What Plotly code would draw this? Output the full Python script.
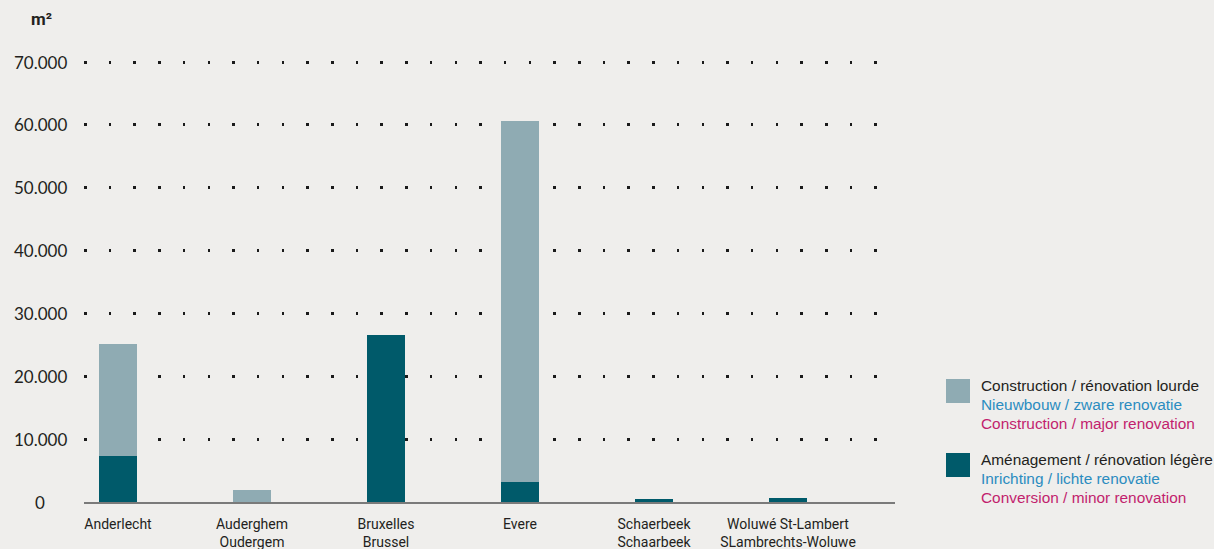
import plotly.graph_objects as go

# Municipalities (French / Dutch names)
municipalities = [
    "Anderlecht",
    "Auderghem<br>Oudergem",
    "Bruxelles<br>Brussel",
    "Evere",
    "Schaerbeek<br>Schaarbeek",
    "Woluwé St-Lambert<br>SLambrechts-Woluwe",
]

# Floor area in m² per type of works
light_works = [7300, 0, 26600, 3200, 400, 600]        # Aménagement / rénovation légère
heavy_works = [17900, 1900, 0, 57400, 0, 0]           # Construction / rénovation lourde

y_ticks = [0, 10000, 20000, 30000, 40000, 50000, 60000, 70000]
y_tick_labels = ["0", "10.000", "20.000", "30.000", "40.000", "50.000", "60.000", "70.000"]

legend_entries = [
    ("#8FABB3", ["Construction / rénovation lourde",
                 "Nieuwbouw / zware renovatie",
                 "Construction / major renovation"]),
    ("#005A6A", ["Aménagement / rénovation légère",
                 "Inrichting / lichte renovatie",
                 "Conversion / minor renovation"]),
]
line_colors = ["#231F20", "#2B8CC0", "#C21F6E"]

BG = "#EFEEEC"
DARK = "#005A6A"
LIGHT = "#8FABB3"
NARROW = "Roboto, Liberation Sans, sans-serif"
NUM_FONT = "Lato, Open Sans, sans-serif"

positions = list(range(len(municipalities)))

fig = go.Figure()
fig.add_trace(go.Bar(x=positions, y=light_works, marker=dict(color=DARK, line=dict(width=0)),
                     width=0.284, showlegend=False))
fig.add_trace(go.Bar(x=positions, y=heavy_works, marker=dict(color=LIGHT, line=dict(width=0)),
                     width=0.284, showlegend=False))

# Plot area geometry (pixels) used to place the side elements
W, H = 1214, 549
L, R, T, B = 84, 319, 58, 47
pw, ph = W - L - R, H - T - B
# 70.000 sits 4 px below the top of the plot area so its grid row is kept
units_per_px = 70000 / (ph - 4)
y_top = 70000 + 4 * units_per_px

def px_x(x):
    return (x - L) / pw

def px_y(y):
    return (H - B - y) / ph

annotations = []
# centred y tick labels
for v, lab in zip(y_ticks, y_tick_labels):
    annotations.append(dict(x=px_x(40), y=v, xref="paper", yref="y", text=lab, showarrow=False,
                            xanchor="center", yanchor="middle",
                            font=dict(family=NUM_FONT, size=17, color="#231F20")))
# unit
annotations.append(dict(x=px_x(41), y=px_y(19), xref="paper", yref="paper", text="<b>m²</b>",
                        showarrow=False, xanchor="center", yanchor="middle",
                        font=dict(family=NARROW, size=17, color="#231F20")))

shapes = []
block_tops = [379, 453]
line_offsets = [6, 25.5, 44]
for (color, lines), top in zip(legend_entries, block_tops):
    shapes.append(dict(type="rect", xref="paper", yref="paper",
                       x0=px_x(946), x1=px_x(970), y0=px_y(top), y1=px_y(top + 24),
                       fillcolor=color, line=dict(width=0)))
    for text, off, c in zip(lines, line_offsets, line_colors):
        annotations.append(dict(x=px_x(979), y=px_y(top + off), xref="paper", yref="paper",
                                text=text, showarrow=False, xanchor="left", yanchor="middle",
                                font=dict(family="Liberation Sans, Arial, sans-serif", size=15.4, color=c)))

fig.update_layout(
    width=W, height=H,
    margin=dict(l=L, r=R, t=T, b=B, pad=0),
    paper_bgcolor=BG, plot_bgcolor=BG,
    barmode="stack", bargap=0,
    xaxis=dict(range=[-34 / 134, (895 - 118) / 134], tickmode="array", tickvals=positions,
               ticktext=municipalities, showgrid=False, zeroline=False, automargin=False,
               showline=True, linecolor="#7A7A7A", linewidth=2, ticks="", ticklabelstandoff=8,
               tickfont=dict(family=NARROW, size=14, color="#231F20"), fixedrange=True),
    yaxis=dict(range=[0, y_top], tickmode="array", tickvals=y_ticks, showticklabels=False,
               showgrid=True, gridcolor="#1A1A1A", gridwidth=2.5, griddash="2.5px,22.2px",
               zeroline=False, showline=False, ticks="", automargin=False, fixedrange=True),
    shapes=shapes,
    annotations=annotations,
    showlegend=False,
)

fig.write_html("out.html")
